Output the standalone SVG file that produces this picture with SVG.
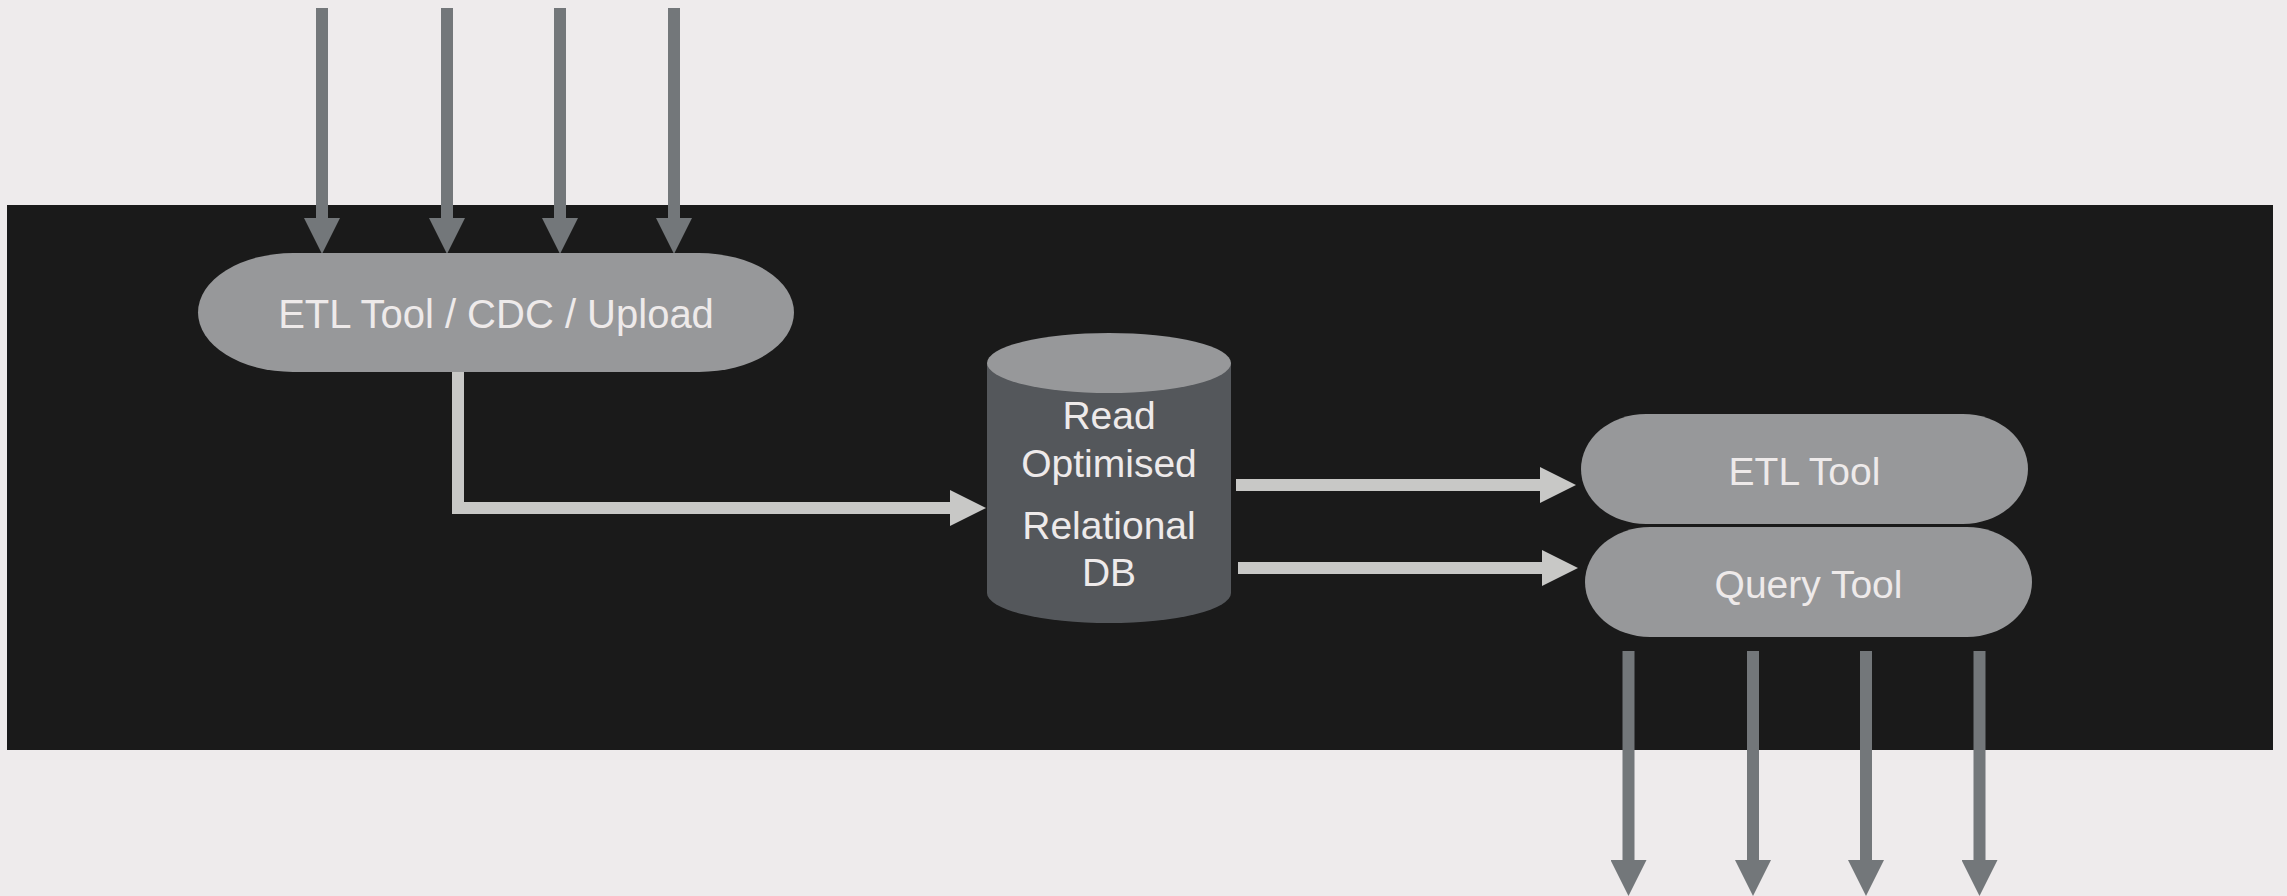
<svg xmlns="http://www.w3.org/2000/svg" width="2287" height="896" viewBox="0 0 2287 896">
<defs>
<style>
.bg{fill:#eeebec}
.band{fill:#1a1a1a}
.pill{fill:#97989a}
.cylbody{fill:#54575b}
.cyltop{fill:#97989a}
.lbl{font-family:"Liberation Sans",Arial,sans-serif;font-size:39px;fill:#eeeaea;text-anchor:middle}
.gray{stroke:#73777a;stroke-width:12;fill:none;stroke-linecap:butt}
.light{stroke:#c8c8c6;stroke-width:12;fill:none;stroke-linejoin:miter}
</style>
<marker id="hg" viewBox="0 0 36 36" refX="0" refY="18" markerWidth="36" markerHeight="36" markerUnits="userSpaceOnUse" orient="auto">
<path d="M0,0 L36,18 L0,36 Z" fill="#73777a"/>
</marker>
<marker id="hl" viewBox="0 0 36 36" refX="0" refY="18" markerWidth="36" markerHeight="36" markerUnits="userSpaceOnUse" orient="auto">
<path d="M0,0 L36,18 L0,36 Z" fill="#c8c8c6"/>
</marker>
</defs>
<rect class="bg" x="0" y="0" width="2287" height="896"/>
<rect class="band" x="7" y="205" width="2266" height="545"/>
<g id="connectors">
<line class="gray" x1="322" y1="8" x2="322" y2="218" marker-end="url(#hg)"/>
<line class="gray" x1="447" y1="8" x2="447" y2="218" marker-end="url(#hg)"/>
<line class="gray" x1="560" y1="8" x2="560" y2="218" marker-end="url(#hg)"/>
<line class="gray" x1="674" y1="8" x2="674" y2="218" marker-end="url(#hg)"/>
<path class="light" d="M458,372 V508 H950" marker-end="url(#hl)"/>
<line class="light" x1="1236" y1="485" x2="1540" y2="485" marker-end="url(#hl)"/>
<line class="light" x1="1238" y1="568" x2="1542" y2="568" marker-end="url(#hl)"/>
<line class="gray" x1="1628.5" y1="651" x2="1628.5" y2="860" marker-end="url(#hg)"/>
<line class="gray" x1="1753" y1="651" x2="1753" y2="860" marker-end="url(#hg)"/>
<line class="gray" x1="1866" y1="651" x2="1866" y2="860" marker-end="url(#hg)"/>
<line class="gray" x1="1979.5" y1="651" x2="1979.5" y2="860" marker-end="url(#hg)"/>
</g>
<g id="etl-cdc-upload">
<rect class="pill" x="198" y="253" width="596" height="119" rx="95" ry="60"/>
<text class="lbl" x="496" y="328" style="font-size:40px">ETL Tool / CDC / Upload</text>
</g>
<g id="read-optimised-db">
<path class="cylbody" d="M987,363 V593 A122,30 0 0 0 1231,593 V363 Z"/>
<ellipse class="cyltop" cx="1109" cy="363" rx="122" ry="30"/>
<text class="lbl" x="1109" y="429">Read</text>
<text class="lbl" x="1109" y="477">Optimised</text>
<text class="lbl" x="1109" y="539">Relational</text>
<text class="lbl" x="1109" y="586">DB</text>
</g>
<g id="etl-tool">
<rect class="pill" x="1581" y="414" width="447" height="110" rx="65" ry="55"/>
<text class="lbl" x="1804.5" y="485">ETL Tool</text>
</g>
<g id="query-tool">
<rect class="pill" x="1585" y="527" width="447" height="110" rx="65" ry="55"/>
<text class="lbl" x="1808.5" y="598">Query Tool</text>
</g>
</svg>
